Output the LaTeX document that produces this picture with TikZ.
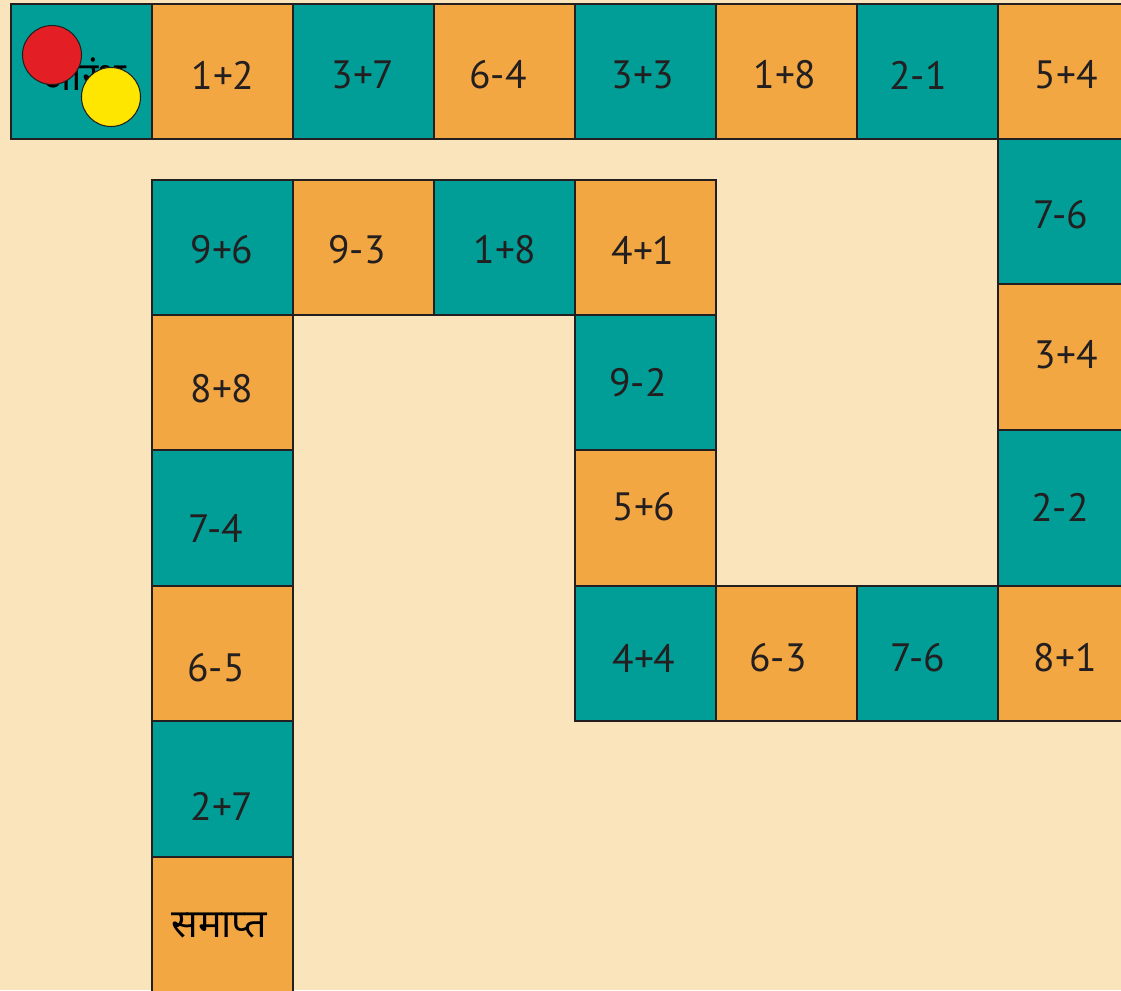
\documentclass[tikz,border=0pt]{standalone}
\usepackage{fontspec}
\setmainfont{PT Sans}
\newfontfamily\devfont[Script=Devanagari]{Noto Sans}
\usepackage{tikz}
\definecolor{boardbg}{HTML}{F9E4BC}
\definecolor{boardteal}{HTML}{009E96}
\definecolor{boardorange}{HTML}{F2A742}
\definecolor{boardink}{HTML}{231F20}
\definecolor{tokenred}{HTML}{E31E24}
\definecolor{tokenyellow}{HTML}{FFE600}
\begin{document}
\begin{tikzpicture}[x=0.02cm,y=-0.02cm,
		tealcell/.style={fill=boardteal, draw=boardink, line width=1.1pt},
		orangecell/.style={fill=boardorange, draw=boardink, line width=1.1pt},
		sumtext/.style={text=boardink, font=\fontsize{22.5}{26}\selectfont},
		devtext/.style={text=black, font=\devfont\fontsize{22.5}{26}\selectfont},
		token/.style={draw=boardink, line width=0.6pt}]
				\useasboundingbox (0,0) rectangle (1121,990);
				\clip (0,0) rectangle (1121,990);
				\fill[boardbg] (0,0) rectangle (1121,990);
				% top row
				\draw[tealcell] (11,4) rectangle (152,139);
				\draw[orangecell] (152,4) rectangle (293,139);
				\draw[tealcell] (293,4) rectangle (434,139);
				\draw[orangecell] (434,4) rectangle (575,139);
				\draw[tealcell] (575,4) rectangle (716,139);
				\draw[orangecell] (716,4) rectangle (857,139);
				\draw[tealcell] (857,4) rectangle (998,139);
				\draw[orangecell] (998,4) rectangle (1139,139);
				% right column
				\draw[tealcell] (998,139) rectangle (1139,284);
				\draw[orangecell] (998,284) rectangle (1139,430);
				\draw[tealcell] (998,430) rectangle (1139,586);
				\draw[orangecell] (998,586) rectangle (1139,721);
				% bottom row
				\draw[tealcell] (857,586) rectangle (998,721);
				\draw[orangecell] (716,586) rectangle (857,721);
				\draw[tealcell] (575,586) rectangle (716,721);
				% middle column
				\draw[orangecell] (575,450) rectangle (716,586);
				\draw[tealcell] (575,315) rectangle (716,450);
				\draw[orangecell] (575,180) rectangle (716,315);
				% second row
				\draw[tealcell] (434,180) rectangle (575,315);
				\draw[orangecell] (293,180) rectangle (434,315);
				\draw[tealcell] (152,180) rectangle (293,315);
				% left column
				\draw[orangecell] (152,315) rectangle (293,450);
				\draw[tealcell] (152,450) rectangle (293,586);
				\draw[orangecell] (152,586) rectangle (293,721);
				\draw[tealcell] (152,721) rectangle (293,857);
				\draw[orangecell] (152,857) rectangle (293,1010);
				% labels
				\node[devtext] (start) at (84,74) {आरंभ};
				\node[sumtext] (s1) at (223,75) {1+2};
				\node[sumtext] (s2) at (363,75) {3+7};
				\node[sumtext] (s3) at (498,75) {6-4};
				\node[sumtext] (s4) at (643,75) {3+3};
				\node[sumtext] (s5) at (785,75) {1+8};
				\node[sumtext] (s6) at (918,75) {2-1};
				\node[sumtext] (s7) at (1066,75) {5+4};
				\node[sumtext] (s8) at (1061,215) {7-6};
				\node[sumtext] (s9) at (1066,355) {3+4};
				\node[sumtext] (s10) at (1060,507) {2-2};
				\node[sumtext] (s11) at (1065,658) {8+1};
				\node[sumtext] (s12) at (918,658) {7-6};
				\node[sumtext] (s13) at (778,658) {6-3};
				\node[sumtext] (s14) at (644,658) {4+4};
				\node[sumtext] (s15) at (644,507) {5+6};
				\node[sumtext] (s16) at (638,383) {9-2};
				\node[sumtext] (s17) at (643,250) {4+1};
				\node[sumtext] (s18) at (505,250) {1+8};
				\node[sumtext] (s19) at (357,250) {9-3};
				\node[sumtext] (s20) at (222,250) {9+6};
				\node[sumtext] (s21) at (222,389) {8+8};
				\node[sumtext] (s22) at (216,528) {7-4};
				\node[sumtext] (s23) at (216,668) {6-5};
				\node[sumtext] (s24) at (222,806) {2+7};
				\node[devtext] (finish) at (219,925) {समाप्त};
				% tokens
				\draw[token, fill=tokenred] (52,55) circle (29.5);
				\draw[token, fill=tokenyellow] (111,97) circle (29.5);
			\end{tikzpicture}
\end{document}
